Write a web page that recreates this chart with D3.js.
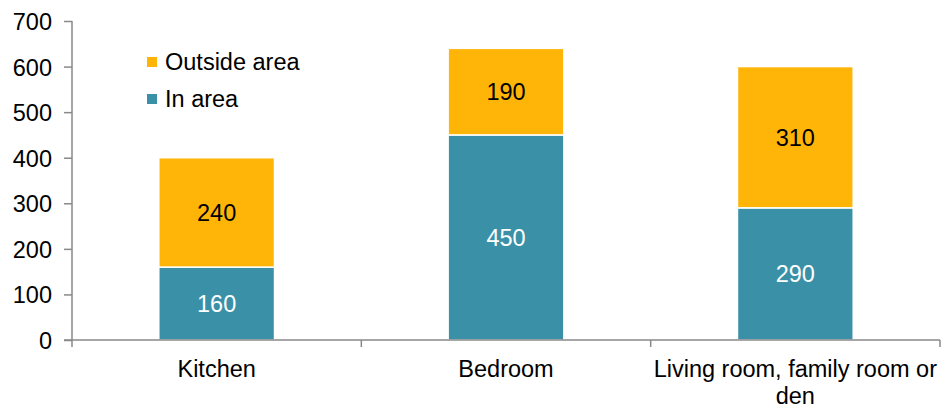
<!DOCTYPE html>
<html>
<head>
<meta charset="utf-8">
<script src="https://cdn.jsdelivr.net/npm/d3@7"></script>
<style>
  body { margin: 0; background: #fff; }
  text { font-family: "Liberation Sans", Arial, sans-serif; }
</style>
</head>
<body>
<div class="chart"></div>
<script>
const categories = ["Kitchen", "Bedroom", "Living room, family room or den"];
const inArea = [160, 450, 290];
const outsideArea = [240, 190, 310];
const seriesNames = ["In area", "Outside area"];
const yTicks = [0, 100, 200, 300, 400, 500, 600, 700];

const width = 943;
const height = 409;
const margin = { top: 21, right: 3, bottom: 69, left: 72 };
const colors = { "In area": "#3a91a7", "Outside area": "#ffb508" };
const fontSize = "23.5px";

const rows = categories.map((c, i) => ({
  cat: c,
  "In area": inArea[i],
  "Outside area": outsideArea[i]
}));

const stack = d3.stack().keys(seriesNames)(rows);

const svg = d3
  .select(".chart")
  .append("svg")
  .attr("width", width)
  .attr("height", height);

const x = d3
  .scaleBand()
  .domain(categories)
  .range([margin.left, width - margin.right])
  .paddingInner(0.6)
  .paddingOuter(0.3);

const y = d3
  .scaleLinear()
  .domain([0, 700])
  .range([height - margin.bottom, margin.top]);

// bars
svg
  .append("g")
  .selectAll("g")
  .data(stack)
  .enter()
  .append("g")
  .attr("fill", d => colors[d.key])
  .selectAll("rect")
  .data(d => d)
  .enter()
  .append("rect")
  .attr("x", d => x(d.data.cat))
  .attr("width", x.bandwidth())
  .attr("y", d => y(d[1]))
  .attr("height", d => y(d[0]) - y(d[1]))
  .attr("stroke", "#fff")
  .attr("stroke-width", 1.5);

// value labels
stack.forEach(s => {
  svg
    .append("g")
    .selectAll("text")
    .data(s)
    .enter()
    .append("text")
    .attr("x", d => x(d.data.cat) + x.bandwidth() / 2)
    .attr("y", d => (y(d[0]) + y(d[1])) / 2)
    .attr("dy", "0.36em")
    .attr("text-anchor", "middle")
    .style("font-size", fontSize)
    .style("fill", s.key === "In area" ? "#fff" : "#000")
    .text(d => d[1] - d[0]);
});

// y axis
const yAxis = svg
  .append("g")
  .attr("transform", `translate(${margin.left},0)`)
  .call(d3.axisLeft(y).tickValues(yTicks).tickSize(8).tickPadding(12));
yAxis.selectAll("path, line").attr("stroke", "#898989").attr("stroke-width", 1.5);
yAxis.selectAll("text").style("font-size", fontSize).style("fill", "#000").attr("dy", "0.36em");
yAxis.select(".domain").attr("d", `M0,${y(0)}V${y(700)}`);

// x axis
const x0 = y(0);
const xg = svg.append("g");
xg.append("line")
  .attr("x1", margin.left - 8)
  .attr("x2", width - margin.right)
  .attr("y1", x0)
  .attr("y2", x0)
  .attr("stroke", "#898989")
  .attr("stroke-width", 1.5);
const bounds = categories.map(c => x(c) - x.step() * 0.3).concat([width - margin.right]);
xg.selectAll(".xt")
  .data(bounds)
  .enter()
  .append("line")
  .attr("x1", d => d)
  .attr("x2", d => d)
  .attr("y1", x0)
  .attr("y2", x0 + 7)
  .attr("stroke", "#898989")
  .attr("stroke-width", 1.5);

const catLines = {
  "Kitchen": ["Kitchen"],
  "Bedroom": ["Bedroom"],
  "Living room, family room or den": ["Living room, family room or", "den"]
};
xg.selectAll(".xl")
  .data(categories)
  .enter()
  .append("text")
  .attr("text-anchor", "middle")
  .attr("x", d => x(d) + x.bandwidth() / 2)
  .attr("y", x0 + 37)
  .style("font-size", fontSize)
  .style("fill", "#000")
  .each(function(d) {
    d3.select(this)
      .selectAll("tspan")
      .data(catLines[d])
      .enter()
      .append("tspan")
      .attr("x", x(d) + x.bandwidth() / 2)
      .attr("dy", (t, i) => (i === 0 ? 0 : 27))
      .text(t => t);
  });

// legend
const legendItems = ["Outside area", "In area"];
const legend = svg
  .append("g")
  .selectAll("g")
  .data(legendItems)
  .enter()
  .append("g")
  .attr("transform", (d, i) => `translate(147,${57 + i * 37})`);
legend
  .append("rect")
  .attr("width", 10)
  .attr("height", 10)
  .attr("fill", d => colors[d]);
legend
  .append("text")
  .attr("x", 18)
  .attr("y", 13)
  .style("font-size", fontSize)
  .style("fill", "#000")
  .text(d => d);
</script>
</body>
</html>
